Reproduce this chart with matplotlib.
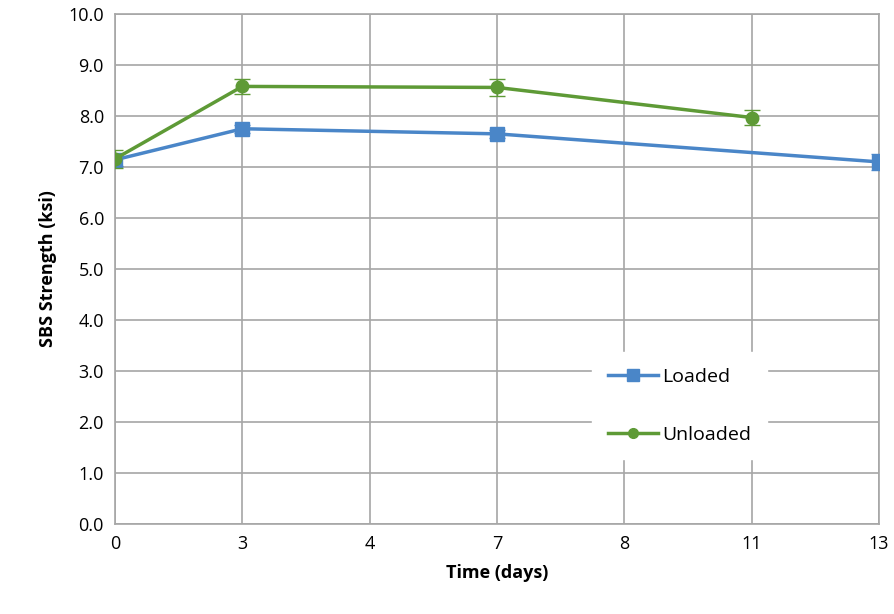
import numpy as np
import matplotlib.pyplot as plt
from matplotlib.lines import Line2D

plt.rcParams['font.family'] = ['Open Sans', 'DejaVu Sans']

# category axis (equally spaced labels)
days = ['0', '3', '4', '7', '8', '11', '13']

loaded_days = ['0', '3', '7', '13']
loaded = [7.14, 7.75, 7.65, 7.10]
loaded_err = [0.12, 0.08, 0.08, 0.15]

unloaded_days = ['0', '3', '7', '11']
unloaded = [7.16, 8.58, 8.56, 7.97]
unloaded_err = [0.18, 0.15, 0.17, 0.15]

blue = '#4a86c8'
green = '#5e9a36'

fig = plt.figure(figsize=(8.95, 6.14), dpi=100)
ax = fig.add_axes([115/895, 90/614, 764/895, 510/614])

lx = [days.index(d) for d in loaded_days]
ux = [days.index(d) for d in unloaded_days]

ax.errorbar(lx, loaded, yerr=loaded_err, color=blue, lw=2.5, marker='s',
            ms=10, capsize=6, elinewidth=1, capthick=1, zorder=3)
ax.errorbar(ux, unloaded, yerr=unloaded_err, color=green, lw=2.5, marker='o',
            ms=9, capsize=6, elinewidth=1, capthick=1, zorder=4)

ax.set_xlim(0, len(days) - 1)
ax.set_xticks(range(len(days)))
ax.set_xticklabels(days)
ax.set_ylim(0, 10)
ax.set_yticks(np.arange(0, 10.1, 1.0))
ax.set_yticklabels([f'{v:.1f}' for v in np.arange(0, 10.1, 1.0)])
ax.tick_params(labelsize=13, length=0, pad=8)
ax.grid(True, color='#a6a6a6', lw=1.2)
ax.set_axisbelow(True)
for s in ax.spines.values():
    s.set_color('#a6a6a6')
    s.set_linewidth(1.2)

ax.set_xlabel('Time (days)', fontsize=13, fontweight='bold', labelpad=8)
ax.set_ylabel('SBS Strength (ksi)', fontsize=13, fontweight='bold', labelpad=8)

handles = [Line2D([], [], color=blue, lw=2.5, marker='s', ms=8),
           Line2D([], [], color=green, lw=2.5, marker='o', ms=7)]
leg = ax.legend(handles, ['Loaded', 'Unloaded'], loc='lower left',
                bbox_to_anchor=(0.612, 0.108), frameon=True, fontsize=14,
                labelspacing=2.05, handlelength=2.6, handletextpad=0.2,
                framealpha=1, borderpad=0.8)
leg.get_frame().set_edgecolor('white')

fig.savefig('out.png', dpi=100)
